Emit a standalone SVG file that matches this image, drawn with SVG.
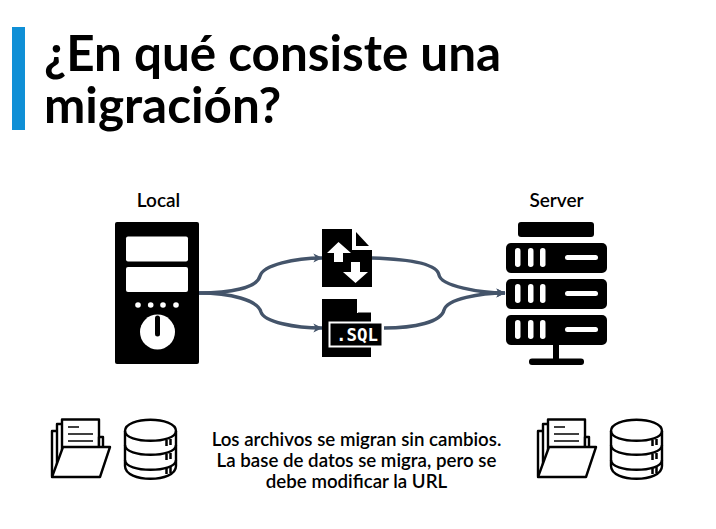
<svg xmlns="http://www.w3.org/2000/svg" width="716" height="529" viewBox="0 0 716 529">
<style>
text{font-family:Lato,"Liberation Sans",sans-serif;fill:#000}
.t{font-size:49.400px;font-weight:700}
.l{font-size:19px;font-weight:600;text-anchor:middle}
.b{font-size:18.700px;font-weight:600;text-anchor:middle}
.c{fill:none;stroke:#44546a;stroke-width:3.400}
.o{fill:none;stroke:#000;stroke-width:2.400;stroke-linejoin:round}
.w{fill:#fff}
.ow{fill:#fff;stroke:#000;stroke-width:2.400;stroke-linejoin:round}
.th{fill:none;stroke:#000;stroke-width:1.600}
</style>
<defs>
<marker id="a" viewBox="0 0 10 10" refX="8.500" refY="5" markerWidth="3" markerHeight="3" orient="auto" markerUnits="strokeWidth"><path d="M0 0.500L9 5L0 9.500L2.500 5Z" fill="#44546a"/></marker>
<g id="folder">
<path class="ow" d="M2 21V66L8 60V21Z"/>
<path class="ow" d="M7 14V60L14 50V14Z"/>
<path class="ow" d="M12 9.500H49V40H12Z"/>
<path class="th" d="M18 17H29M18 24H43M18 31H43"/>
<path class="ow" d="M49 27H53V38H49Z"/>
<path class="ow" d="M13 37H60L50 67H2Z"/>
</g>
<g id="db">
<path class="ow" d="M1 21C1 6 52 6 52 21V56C52 73 1 73 1 56Z"/>
<path class="o" d="M1 21C1 34 52 34 52 21M1 35C1 48 52 48 52 35M1 50C1 63 52 63 52 50"/>
<path d="M42.500 30v6M46.500 29v6M42.500 44v6M46.500 43v6M42.500 58v6M46.500 57v6" stroke="#000" stroke-width="2.500" fill="none"/>
</g>
</defs>
<rect id="bar" x="12" y="27" width="13" height="103" fill="#0f8fd6"/>
<g id="title">
<text class="t" x="44" y="71">¿En qué consiste una</text>
<text class="t" x="44" y="123">migración?</text>
</g>
<g id="connectors">
<path class="c" marker-end="url(#a)" d="M199 293C230 293 257 288 260 276C263 265 295 258 322 258"/>
<path class="c" marker-end="url(#a)" d="M199 293C230 293 258 300 261 312C264 322 295 328 322 328"/>
<path class="c" marker-end="url(#a)" d="M372 258C405 259 437 263 439 275C441 286 480 293 505 293"/>
<path class="c" marker-end="url(#a)" d="M384 328C415 328 441 322 444 310C447 299 480 293 505 293"/>
</g>
<g id="local">
<text class="l" x="158.500" y="207">Local</text>
<rect x="115" y="222" width="84" height="142" rx="2"/>
<rect class="w" x="126" y="236.500" width="62" height="25" rx="2"/>
<rect class="w" x="126" y="267" width="62" height="25" rx="2"/>
<circle class="w" cx="138" cy="305" r="2.800"/><circle class="w" cx="150.700" cy="305" r="2.800"/><circle class="w" cx="163" cy="305" r="2.800"/><circle class="w" cx="176" cy="305" r="2.800"/>
<circle class="w" cx="157.500" cy="332" r="17.500"/>
<rect class="w" x="152" y="316" width="11" height="12" rx="3"/>
<path d="M157.500 318V334" stroke="#000" stroke-width="5" stroke-linecap="round"/>
</g>
<g id="file-transfer">
<path d="M322 229H352V250H372V287H322Z"/>
<path d="M356 232L369 246H356Z"/>
<path class="w" d="M338.500 242L351 253H343V262H334V253H327Z"/>
<path d="M351 253H362V272H370L355.500 286L341 272H351Z"/>
<path class="w" d="M355.500 283L343 272H351V262H360V272H368Z"/>
</g>
<g id="file-sql">
<path d="M322 299H357V313H371V357H322Z"/>
<path d="M358 300L371 312H358Z" fill="#fff"/>
<path d="M358 313H371" stroke="#000" stroke-width="1"/>
<rect x="329.500" y="322.500" width="53" height="24" fill="#000" stroke="#fff" stroke-width="2"/>
<text x="336" y="341" font-size="17" font-weight="700" textLength="42" lengthAdjust="spacingAndGlyphs" style="font-family:'DejaVu Sans Mono',monospace;fill:#fff">.SQL</text>
</g>
<g id="server">
<text class="l" x="556.500" y="207">Server</text>
<rect x="518" y="222" width="76" height="15" rx="3"/>
<rect x="506" y="243" width="101" height="30" rx="5"/>
<rect x="506" y="279" width="101" height="30" rx="5"/>
<rect x="506" y="315" width="101" height="30" rx="5"/>
<g class="w">
<rect x="515" y="248" width="5.500" height="19" rx="2.700"/><rect x="528" y="248" width="5.500" height="19" rx="2.700"/><rect x="540" y="248" width="5.500" height="19" rx="2.700"/><rect x="565" y="255" width="33" height="5" rx="2.500"/>
<rect x="515" y="284" width="5.500" height="19" rx="2.700"/><rect x="528" y="284" width="5.500" height="19" rx="2.700"/><rect x="540" y="284" width="5.500" height="19" rx="2.700"/><rect x="565" y="291" width="33" height="5" rx="2.500"/>
<rect x="515" y="320" width="5.500" height="19" rx="2.700"/><rect x="528" y="320" width="5.500" height="19" rx="2.700"/><rect x="540" y="320" width="5.500" height="19" rx="2.700"/><rect x="565" y="327" width="33" height="5" rx="2.500"/>
</g>
<rect x="553" y="345" width="6" height="15"/>
<rect x="529" y="358.500" width="55" height="6.500" rx="3"/>
</g>
<g id="files-left"><use href="#folder" x="50" y="410"/></g>
<g id="db-left"><use href="#db" x="124" y="410"/></g>
<g id="files-right"><use href="#folder" x="536" y="410"/></g>
<g id="db-right"><use href="#db" x="610" y="410"/></g>
<g id="caption">
<text class="b" x="356.500" y="446">Los archivos se migran sin cambios.</text>
<text class="b" x="356.500" y="467">La base de datos se migra, pero se</text>
<text class="b" x="356.500" y="488">debe modificar la URL</text>
</g>
</svg>
